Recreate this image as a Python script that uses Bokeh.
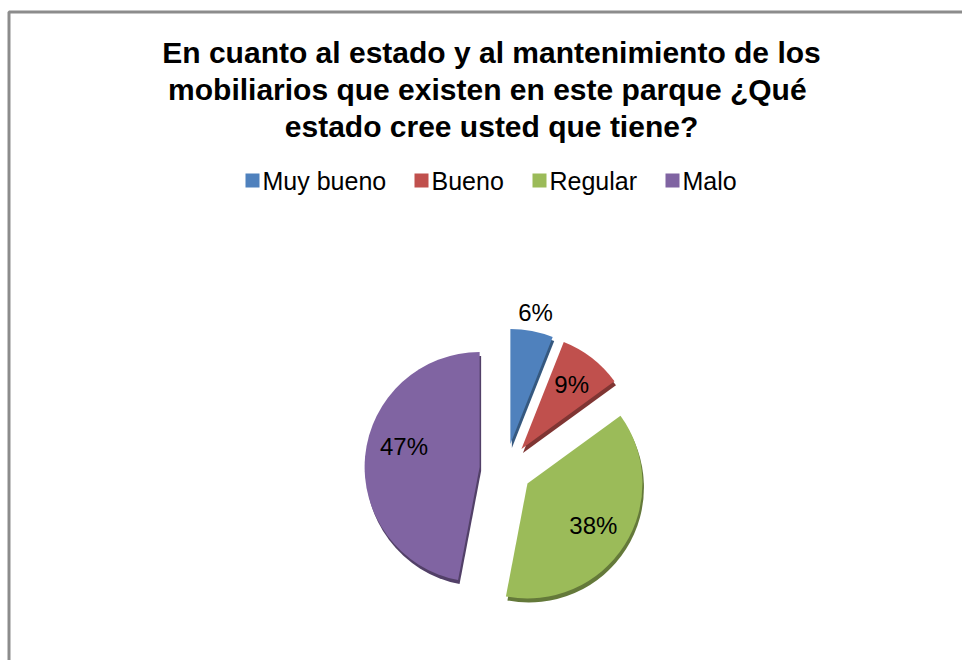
import math
from bokeh.plotting import figure
from bokeh.models import Range1d
from bokeh.core.properties import value
from bokeh.embed import file_html
from bokeh.resources import INLINE

# ---- data ----
categories = ["Muy bueno", "Bueno", "Regular", "Malo"]
percentages = [6, 9, 38, 47]
colors = ["#4F81BD", "#C0504D", "#9BBB59", "#8064A2"]
edge_colors = ["#35587f", "#7f3533", "#64793a", "#524068"]
title_lines = [
    "En cuanto al estado y al mantenimiento de los",
    "mobiliarios que existen en este  parque ¿Qué",
    "estado cree usted que tiene?",
]

# ---- layout (page pixels -> data units, y up) ----
W, H = 962, 660
def X(px):
    return px
def Y(py):
    return H - py

cx, cy = X(505), Y(469)
R = 115
EXPLODE = 26
label_dist = [134, 82, 78, 76]
label_dy = [0, 0, 0, 13]
legend_sq_x = [252, 421, 539, 672]
legend_y = 180
font = "Liberation Sans"

p = figure(width=W, height=H, output_backend="svg", toolbar_location=None,
           x_range=Range1d(0, W), y_range=Range1d(0, H), min_border=0)
p.axis.visible = False
p.grid.visible = False
p.outline_line_color = None
p.background_fill_color = "white"
p.border_fill_color = "white"

# chart frame (only left/top edges are visible in the crop)
p.line(x=[X(8.5), X(8.5), X(990)], y=[Y(700), Y(11.5), Y(11.5)],
       line_color="#8c8c8c", line_width=3)

# title
for i, t in enumerate(title_lines):
    p.text(x=[X(491)], y=[Y(52 + 37 * i)], text=[t], text_align="center",
           text_baseline="middle", text_font=value(font),
           text_font_size="30px", text_font_style="bold", text_color="black")

# legend
for sx, cat, col in zip(legend_sq_x, categories, colors):
    p.rect(x=[X(sx)], y=[Y(legend_y)], width=14, height=14,
           fill_color=col, line_color=None)
    p.text(x=[X(sx + 10)], y=[Y(legend_y)], text=[cat], text_align="left",
           text_baseline="middle", text_font=value(font),
           text_font_size="25px", text_color="black")

# pie (exploded, clockwise from 12 o'clock)
total = sum(percentages)
cum = 0.0
for i, (pct, col, ecol) in enumerate(zip(percentages, colors, edge_colors)):
    a1 = cum / total * 360.0
    cum += pct
    a2 = cum / total * 360.0
    mid = math.radians((a1 + a2) / 2)
    ox = cx + EXPLODE * math.sin(mid)
    oy = cy + EXPLODE * math.cos(mid)
    start = math.radians(90 - a2)
    end = math.radians(90 - a1)
    # thickness (3D rim)
    p.wedge(x=[ox + 1.5], y=[oy - 4], radius=R, start_angle=[start], end_angle=[end],
            direction="anticlock", fill_color=ecol, line_color=None)
    p.wedge(x=[ox], y=[oy], radius=R, start_angle=[start], end_angle=[end],
            direction="anticlock", fill_color=col, line_color=None)
    lx = ox + label_dist[i] * math.sin(mid)
    ly = oy + label_dist[i] * math.cos(mid) + label_dy[i]
    p.text(x=[lx], y=[ly], text=[f"{pct}%"], text_align="center",
           text_baseline="middle", text_font=value(font),
           text_font_size="24px", text_color="black")

open("out.html", "w").write(file_html(p, INLINE))
